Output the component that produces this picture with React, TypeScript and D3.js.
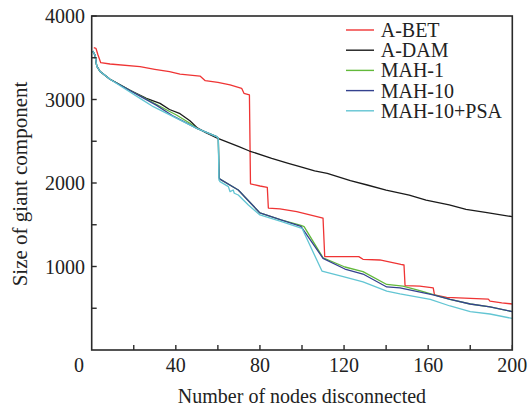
import React from "react";
import * as d3 from "d3";

// ---- Data ----
const seriesNames = ["A-BET", "A-DAM", "MAH-1", "MAH-10", "MAH-10+PSA"];

const aBet: [number, number][] = [
  [1, 3620], [2, 3613], [3, 3533], [4.3, 3441], [8.7, 3425], [23, 3393], [30, 3361],
  [37, 3333], [42, 3305], [51.5, 3281], [54, 3225], [60, 3205], [65.8, 3174],
  [71.3, 3134], [72.4, 3074], [75, 3054], [75.5, 1990], [80, 1964], [83.5, 1948],
  [84, 1700], [89.5, 1689], [97.5, 1656], [110, 1580], [110.8, 1120], [127, 1118],
  [129, 1086], [137, 1078], [147, 1025], [148.5, 1018], [149, 772], [156, 766],
  [162.4, 745], [163, 659], [168.8, 631], [188.6, 610], [189.4, 585], [195, 565],
  [200, 551],
];

const aDam: [number, number][] = [
  [0.5, 3580], [1.6, 3530], [2.4, 3400], [4, 3335], [8.7, 3242], [18, 3114],
  [26, 3014], [32.5, 2954], [37, 2880], [42, 2830], [46.7, 2745], [50, 2665],
  [54, 2607], [60, 2535], [70, 2435], [75, 2383], [85.6, 2296], [93.5, 2236],
  [99, 2195], [106, 2144], [112, 2116], [123, 2028], [131, 1976], [140, 1916],
  [151, 1856], [159, 1796], [170, 1737], [178, 1685], [188, 1644], [200, 1597],
];

const mah1: [number, number][] = [
  [0.5, 3580], [1.6, 3530], [2.4, 3400], [4, 3335], [8.7, 3242], [23, 3045],
  [30.9, 2940], [35.7, 2874], [40.3, 2814], [46.7, 2715], [50, 2655], [59.4, 2555],
  [60.2, 2535], [60.6, 2060], [61, 2046], [69.7, 1916], [80, 1641], [90, 1557],
  [99.5, 1492], [101, 1478], [110, 1105], [120.4, 994], [129, 938], [140.3, 785],
  [148, 766], [156, 712], [162.4, 662], [170.4, 607], [180, 551], [189.4, 517],
  [200, 459],
];

const mah10: [number, number][] = [
  [0.5, 3580], [1.6, 3530], [2.4, 3400], [4, 3335], [8.7, 3242], [23, 3040],
  [30.9, 2930], [38.8, 2800], [50, 2655], [59.4, 2555], [60.2, 2535], [60.6, 2060],
  [61, 2046], [69.7, 1916], [80, 1641], [90, 1557], [99.5, 1480], [110, 1098],
  [120.4, 970], [129, 910], [140.3, 755], [146.6, 745], [162.4, 659], [170.4, 607],
  [180, 551], [189.4, 517], [200, 459],
];

const mah10psa: [number, number][] = [
  [0.5, 3580], [1.6, 3530], [2.4, 3400], [4, 3335], [8.7, 3242], [23, 3014],
  [29.3, 2914], [38.8, 2794], [50, 2655], [59.4, 2555], [60.2, 2535], [60.5, 2036],
  [61, 2016], [65, 1956], [65.8, 1896], [67.3, 1916], [67.8, 1877], [69.7, 1856],
  [74.5, 1737], [80, 1617], [90.3, 1537], [100, 1457], [109.5, 945], [119.6, 878],
  [129, 815], [140.3, 705], [146.6, 671], [161, 607], [170.4, 527], [180, 459],
  [189.4, 431], [200, 378],
];

const seriesData = [aBet, aDam, mah1, mah10, mah10psa];
const seriesColors = ["#ef3434", "#1a1a1a", "#62b93a", "#34428f", "#62c5d3"];

const yTickValues = [500, 1000, 1500, 2000, 2500, 3000, 3500, 4000];
const yLabelValues = [1000, 2000, 3000, 4000];
const xTickValues = [20, 40, 60, 80, 100, 120, 140, 160, 180, 200];
const xLabelValues = [40, 80, 120, 160, 200];

const xTitle = "Number of nodes disconnected";
const yTitle = "Size of giant component";

export default function App() {
  const W = 529;
  const H = 408;
  const x = d3.scaleLinear().domain([0, 200]).range([91.7, 512.3]);
  const y = d3.scaleLinear().domain([0, 4000]).range([350, 16]);
  const line = d3
    .line<[number, number]>()
    .x((d) => x(d[0]))
    .y((d) => y(d[1]));

  const font = "'Liberation Serif', 'Times New Roman', serif";
  const textColor = "#222";
  const axisColor = "#2a2a2a";

  const legendX0 = 346;
  const legendX1 = 374;
  const legendY0 = 30;
  const legendStep = 20.2;

  return (
    <svg
      width={W}
      height={H}
      style={{ position: "absolute", left: 0, top: 0, background: "#fff" }}
      fontFamily={font}
    >
      <rect x={0} y={0} width={W} height={H} fill="#fff" />
      {/* series */}
      {seriesData.map((s, i) => (
        <path
          key={seriesNames[i]}
          d={line(s) || ""}
          fill="none"
          stroke={seriesColors[i]}
          strokeWidth={1.3}
          strokeLinejoin="round"
        />
      ))}

      {/* frame */}
      <rect
        x={x(0)}
        y={y(4000)}
        width={x(200) - x(0)}
        height={y(0) - y(4000)}
        fill="none"
        stroke={axisColor}
        strokeWidth={1.6}
      />

      {/* y ticks */}
      {yTickValues.map((v) => (
        <line
          key={"yt" + v}
          x1={x(0)}
          x2={x(0) + 5}
          y1={y(v)}
          y2={y(v)}
          stroke={axisColor}
          strokeWidth={1.4}
        />
      ))}
      {yLabelValues.map((v) => (
        <text
          key={"yl" + v}
          x={85}
          y={y(v)}
          dy="0.35em"
          textAnchor="end"
          fontSize={20}
          fill={textColor}
        >
          {v}
        </text>
      ))}

      {/* x ticks */}
      {xTickValues.map((v) => (
        <line
          key={"xt" + v}
          x1={x(v)}
          x2={x(v)}
          y1={y(0)}
          y2={y(0) - 5}
          stroke={axisColor}
          strokeWidth={1.4}
        />
      ))}
      {xLabelValues.map((v) => (
        <text
          key={"xl" + v}
          x={x(v)}
          y={365}
          dy="0.35em"
          textAnchor="middle"
          fontSize={20}
          fill={textColor}
        >
          {v}
        </text>
      ))}
      <text x={79} y={365} dy="0.35em" textAnchor="middle" fontSize={20} fill={textColor}>
        0
      </text>

      {/* axis titles */}
      <text x={302} y={396} dy="0.35em" textAnchor="middle" fontSize={20} fill={textColor}>
        {xTitle}
      </text>
      <text
        transform={`translate(20,${184}) rotate(-90)`}
        dy="0.35em"
        textAnchor="middle"
        fontSize={21}
        fill={textColor}
      >
        {yTitle}
      </text>

      {/* legend */}
      {seriesNames.map((n, i) => (
        <g key={"lg" + n}>
          <line
            x1={legendX0}
            x2={legendX1}
            y1={legendY0 + i * legendStep}
            y2={legendY0 + i * legendStep}
            stroke={seriesColors[i]}
            strokeWidth={1.4}
          />
          <text
            x={380.7}
            y={legendY0 + i * legendStep}
            dy="0.35em"
            fontSize={20}
            fill={textColor}
          >
            {n}
          </text>
        </g>
      ))}
    </svg>
  );
}
